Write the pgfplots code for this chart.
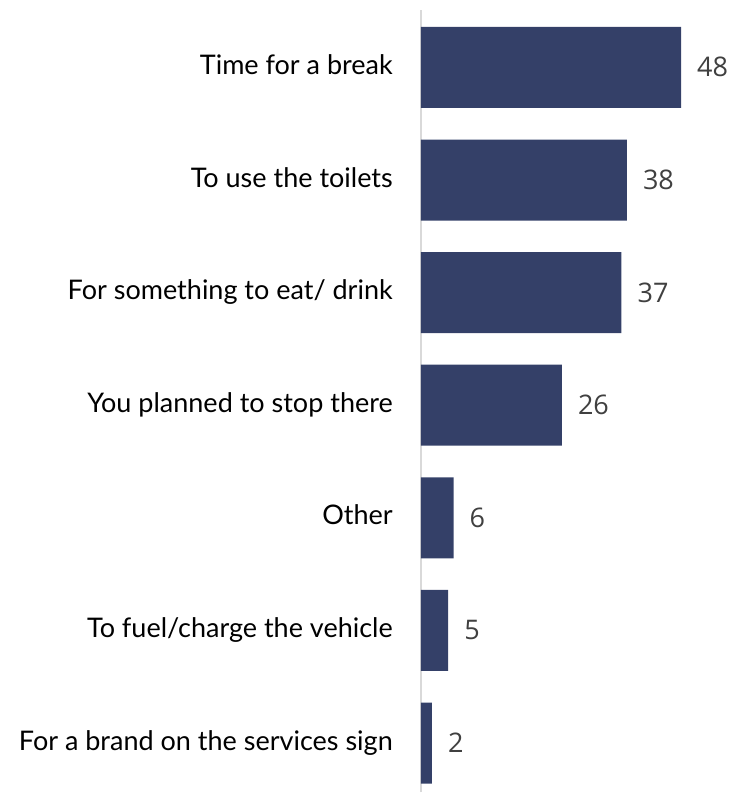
\documentclass[border=0pt]{standalone}
\usepackage{pgfplots}
\pgfplotsset{compat=1.18}
\usepackage{fontspec}
\setmainfont{Lato}
\newfontfamily\numfont{Open Sans}
\definecolor{barblue}{RGB}{52,64,104}
\definecolor{numgray}{RGB}{64,64,64}
\definecolor{axgray}{RGB}{217,217,217}
\begin{document}
\begin{tikzpicture}
\useasboundingbox (0,0) rectangle (733pt,793pt);
\begin{axis}[
  at={(421pt,1pt)}, anchor=south west,
  scale only axis,
  width=312pt, height=782pt,
  xbar, bar width=81pt,
  xmin=0, xmax=57.6,
  ymin=-0.435, ymax=6.51,
  hide x axis,
  axis y line*=left,
  y axis line style={draw=axgray, line width=1.5pt},
  ytick={0,1,2,3,4,5,6},
  yticklabels={For a brand on the services sign,To fuel/charge the vehicle,Other,You planned to stop there,For something to eat/ drink,To use the toilets,Time for a break},
  major tick length=0pt,
  yticklabel style={font=\fontsize{27}{32}\selectfont, text=black, anchor=base east, inner sep=0pt, xshift=-28pt, yshift=-7pt},
  /pgf/number format/assume math mode=true,
  nodes near coords,
  every node near coord/.append style={font=\numfont\fontsize{27}{32}\selectfont, text=numgray, anchor=base west, inner sep=0pt, xshift=16pt, yshift=-9.5pt},
  clip=false,
]
\addplot[fill=barblue, draw=none] coordinates {(2,0) (5,1) (6,2) (26,3) (37,4) (38,5) (48,6)};
\end{axis}
\end{tikzpicture}
\end{document}
